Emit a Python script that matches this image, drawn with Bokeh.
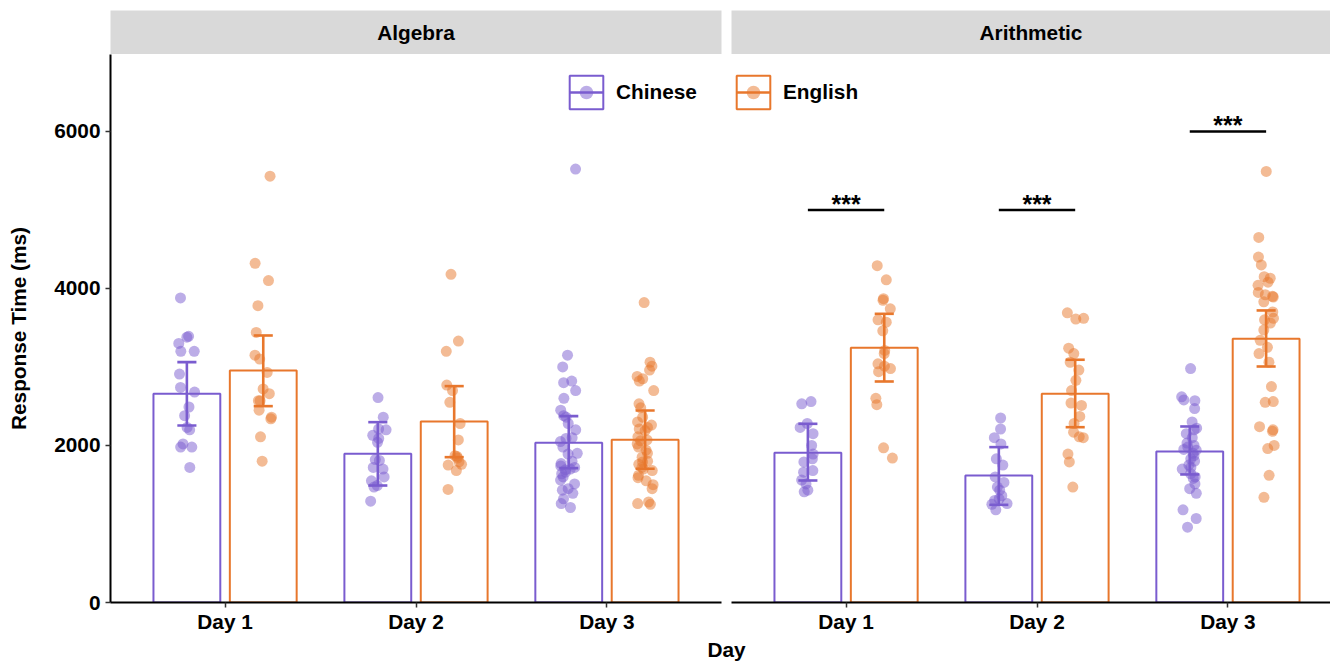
import numpy as np
from bokeh.plotting import figure
from bokeh.models import (ColumnDataSource, FixedTicker, Legend, LegendItem, Range1d)
from bokeh.layouts import row, column
from bokeh.embed import file_html
from bokeh.resources import INLINE
from bokeh.core.properties import value

# ---------------- data ----------------
panels = ["Algebra", "Arithmetic"]
languages = ["Chinese", "English"]
days = [1, 2, 3]
day_labels = ["Day 1", "Day 2", "Day 3"]

# individual response times (ms) per day
alg_cn_pts = [
    [3880, 3380, 3390, 3300, 3200, 3200, 2910, 2740, 2680, 2490, 2380, 2230, 2200, 2020, 1980, 1980, 1720],
    [2610, 2360, 2210, 2200, 2130, 2090, 2040, 1820, 1810, 1720, 1700, 1600, 1550, 1490, 1470, 1290],
    [5520, 3150, 3000, 2820, 2800, 2700, 2600, 2450, 2380, 2360, 2280, 2200, 2100, 2090, 2050, 1980, 1900,
     1890, 1800, 1770, 1740, 1720, 1700, 1690, 1660, 1640, 1600, 1560, 1510, 1450, 1430, 1390, 1320, 1260, 1210],
]
alg_en_pts = [
    [5430, 4320, 4100, 3780, 3440, 3150, 3100, 2930, 2720, 2660, 2570, 2570, 2450, 2360, 2340, 2110, 1800],
    [4180, 3330, 3200, 2770, 2700, 2550, 2280, 2070, 1870, 1860, 1840, 1790, 1760, 1750, 1680, 1440],
    [3820, 3060, 3010, 2960, 2880, 2850, 2820, 2700, 2530, 2480, 2360, 2300, 2260, 2230, 2210, 2190, 2110,
     2070, 2060, 2020, 1980, 1940, 1900, 1850, 1800, 1790, 1760, 1720, 1700, 1680, 1620, 1590, 1550, 1500,
     1450, 1280, 1260, 1250],
]
ari_cn_pts = [
    [2560, 2530, 2280, 2230, 2150, 2000, 1890, 1830, 1790, 1680, 1660, 1560, 1510, 1430, 1410],
    [2350, 2210, 2100, 2020, 1830, 1750, 1600, 1530, 1470, 1430, 1360, 1320, 1300, 1260, 1250, 1180],
    [2980, 2620, 2580, 2570, 2470, 2300, 2220, 2200, 2150, 2100, 2030, 2000, 1980, 1950, 1940, 1900, 1870,
     1830, 1800, 1750, 1720, 1700, 1640, 1600, 1580, 1510, 1450, 1390, 1180, 1070, 960],
]
ari_en_pts = [
    [4290, 4110, 3870, 3850, 3740, 3600, 3570, 3460, 3210, 3170, 3040, 3010, 2980, 2940, 2600, 2520, 1970, 1840],
    [3690, 3620, 3610, 3240, 3170, 3060, 2960, 2830, 2700, 2540, 2510, 2370, 2280, 2170, 2110, 2100, 1890,
     1790, 1470],
    [5490, 4650, 4400, 4300, 4150, 4130, 4080, 4040, 3950, 3920, 3900, 3890, 3830, 3700, 3620, 3600, 3560,
     3470, 3340, 3250, 3170, 3060, 2750, 2560, 2550, 2240, 2200, 2180, 2000, 1960, 1620, 1340],
]

# bar heights (means) and error-bar limits per day
alg_cn_mean = [2658, 1894, 2034]
alg_cn_lo = [2255, 1490, 1711]
alg_cn_hi = [3062, 2297, 2374]
alg_en_mean = [2956, 2306, 2072]
alg_en_lo = [2501, 1851, 1703]
alg_en_hi = [3401, 2756, 2446]
ari_cn_mean = [1907, 1618, 1924]
ari_cn_lo = [1554, 1244, 1631]
ari_cn_hi = [2276, 1979, 2242]
ari_en_mean = [3244, 2658, 3359]
ari_en_lo = [2815, 2233, 3006]
ari_en_hi = [3677, 3092, 3720]

# significance brackets (Arithmetic panel)
sig_days = [1, 2, 3]
sig_y = [5000, 5000, 6000]
sig_text = ["***", "***", "***"]

y_ticks = [0, 2000, 4000, 6000]

# ---------------- style ----------------
FONT = "Liberation Sans"
FS = "20.8px"
PURPLE = "#7a5ccf"
ORANGE = "#e8772c"
STRIP = "#d9d9d9"
DODGE = 0.2
BAR_W = 0.35
CAP = 0.05
Y_MAX = 6980
PX_PER_UNIT = 611 / 3.2
LEFT_W, RIGHT_W, GAP = 611, 599, 10
FRAME_H = 548
LEFT_BORDER = 110
AXIS_BOTTOM = 41
rng = np.random.default_rng(11)


def style_axis(ax):
    ax.axis_line_color = "black"
    ax.axis_line_width = 2
    ax.major_tick_line_color = "#333333"
    ax.major_tick_line_width = 1.5
    ax.major_tick_out = 5
    ax.major_tick_in = 0
    ax.minor_tick_line_color = None
    ax.major_label_text_font = FONT
    ax.major_label_text_font_style = "bold"
    ax.major_label_text_font_size = FS
    ax.major_label_text_color = "black"


def add_group(p, offset, pts, mean, lo, hi, color):
    xs = [d + offset for d in days]
    bar = p.vbar(x=xs, top=mean, width=BAR_W, bottom=0, fill_color="white",
                 line_color=color, line_width=2)
    px, py = [], []
    for d, vals in zip(days, pts):
        jit = rng.uniform(-0.045, 0.045, len(vals))
        px.extend(list(d + offset + jit))
        py.extend(vals)
    dots = p.scatter(x=px, y=py, size=11, fill_color=color, fill_alpha=0.5, line_color=None)
    stem = p.segment(x0=xs, y0=lo, x1=xs, y1=hi, line_color=color, line_width=2.6)
    p.segment(x0=[x - CAP for x in xs], y0=lo, x1=[x + CAP for x in xs], y1=lo,
              line_color=color, line_width=2.6)
    p.segment(x0=[x - CAP for x in xs], y0=hi, x1=[x + CAP for x in xs], y1=hi,
              line_color=color, line_width=2.6)
    return bar, stem, dots


def legend_common():
    return dict(orientation="horizontal", padding=0, margin=0, border_line_color=None,
                background_fill_alpha=0, label_text_font=FONT, label_text_font_style="bold",
                label_text_font_size=FS, label_text_color="black")


def make_legend(p, label, bar, stem, dots, vx):
    # key box (bar outline), drawn with the 10% inset Bokeh uses for area glyphs
    box = Legend(items=[LegendItem(label="", renderers=[bar])], location=(vx, 489),
                 glyph_width=42, glyph_height=42, label_standoff=0, **legend_common())
    # line + point drawn across the box, with the text label
    key = Legend(items=[LegendItem(label=label, renderers=[stem, dots])], location=(vx + 4, 493),
                 glyph_width=34, glyph_height=34, label_standoff=13, **legend_common())
    p.add_layout(box)
    p.add_layout(key)


def strip_fig(title, fw, mbl, mbr):
    s = figure(frame_width=fw, frame_height=44, x_range=Range1d(0, 1), y_range=Range1d(0, 1),
               min_border_left=mbl, min_border_right=mbr, min_border_top=10, min_border_bottom=0,
               x_axis_location=None, y_axis_location=None, toolbar_location=None,
               output_backend="svg", background_fill_color=STRIP, outline_line_color=None)
    s.grid.visible = False
    s.text(x=[0.5], y=[0.5], text=[title], text_align="center", text_baseline="middle",
           text_font=value(FONT), text_font_style="bold", text_font_size=FS, text_color="black")
    return s


def panel_fig(fw, mbl, mbr, with_y):
    p = figure(frame_width=fw, frame_height=FRAME_H,
               x_range=Range1d(0.4, 0.4 + fw / PX_PER_UNIT), y_range=Range1d(0, Y_MAX),
               min_border_left=mbl, min_border_right=mbr, min_border_top=0,
               min_border_bottom=AXIS_BOTTOM,
               y_axis_location="left" if with_y else None,
               toolbar_location=None, output_backend="svg", outline_line_color=None)
    p.grid.visible = False
    style_axis(p.xaxis[0])
    p.xaxis.ticker = FixedTicker(ticks=days)
    p.xaxis.major_label_overrides = {d: lab for d, lab in zip(days, day_labels)}
    p.xaxis.major_label_standoff = 2
    if with_y:
        style_axis(p.yaxis[0])
        p.yaxis.ticker = FixedTicker(ticks=y_ticks)
        p.yaxis.major_label_standoff = 5
        p.yaxis.axis_label = "Response Time (ms)"
        p.yaxis.axis_label_text_font = FONT
        p.yaxis.axis_label_text_font_style = "bold"
        p.yaxis.axis_label_text_font_size = FS
        p.yaxis.axis_label_text_color = "black"
        p.yaxis.axis_label_standoff = 21
    return p


# ---------------- left panel: Algebra ----------------
s1 = strip_fig(panels[0], LEFT_W, LEFT_BORDER, GAP)
p1 = panel_fig(LEFT_W, LEFT_BORDER, GAP, True)
cn1 = add_group(p1, -DODGE, alg_cn_pts, alg_cn_mean, alg_cn_lo, alg_cn_hi, PURPLE)
en1 = add_group(p1, DODGE, alg_en_pts, alg_en_mean, alg_en_lo, alg_en_hi, ORANGE)
make_legend(p1, languages[0], *cn1, 455)

# ---------------- right panel: Arithmetic ----------------
s2 = strip_fig(panels[1], RIGHT_W, 0, 0)
p2 = panel_fig(RIGHT_W, 0, 0, False)
cn2 = add_group(p2, -DODGE, ari_cn_pts, ari_cn_mean, ari_cn_lo, ari_cn_hi, PURPLE)
en2 = add_group(p2, DODGE, ari_en_pts, ari_en_mean, ari_en_lo, ari_en_hi, ORANGE)
make_legend(p2, languages[1], *en2, 1)

sig_src = ColumnDataSource(dict(
    x0=[d - DODGE for d in sig_days], x1=[d + DODGE for d in sig_days],
    xm=sig_days, y=sig_y, t=sig_text))
p2.segment(x0="x0", y0="y", x1="x1", y1="y", source=sig_src, line_color="black", line_width=2.6)
p2.text(x="xm", y="y", text="t", source=sig_src, text_align="center", text_baseline="alphabetic",
        text_font=value(FONT), text_font_style="bold", text_font_size="25px", text_color="black",
        y_offset=-6)

# ---------------- shared x-axis title ----------------
total_w = LEFT_BORDER + LEFT_W + GAP + RIGHT_W
day_h = 30
overlap = 12  # pull the title strip up into the blank space under the tick labels
d = figure(width=total_w, height=day_h, x_range=Range1d(0, total_w - LEFT_BORDER),
           y_range=Range1d(0, day_h), min_border_left=LEFT_BORDER, min_border_right=0,
           min_border_top=0, min_border_bottom=0, x_axis_location=None, y_axis_location=None,
           toolbar_location=None, output_backend="svg", outline_line_color=None,
           border_fill_alpha=0, background_fill_alpha=0, margin=(-overlap, 0, 0, 0))
d.grid.visible = False
d.text(x=[(LEFT_W + GAP + LEFT_W) / 2], y=[12], text=["Day"], text_align="center",
       text_baseline="alphabetic", text_font=value(FONT), text_font_style="bold",
       text_font_size=FS, text_color="black")

layout = column(row(column(s1, p1), column(s2, p2)), d)
open("out.html", "w").write(file_html(layout, INLINE))
